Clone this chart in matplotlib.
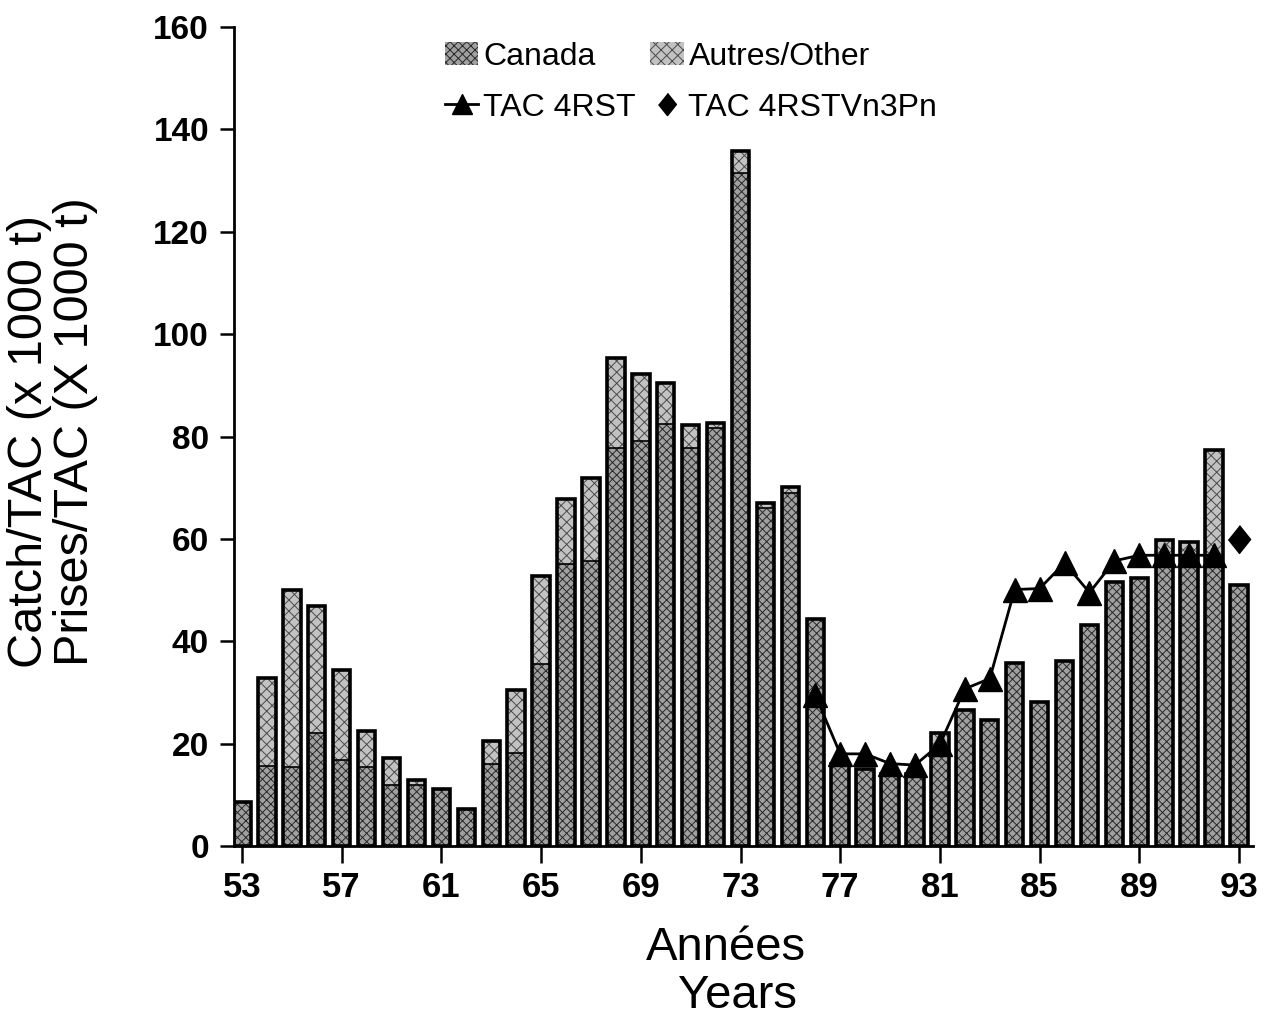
import numpy as np
import matplotlib
matplotlib.use("Agg")
import matplotlib.pyplot as plt
from matplotlib.patches import Patch
from matplotlib.lines import Line2D

plt.rcParams['font.family'] = ['Liberation Sans', 'DejaVu Sans']
plt.rcParams['hatch.linewidth'] = 0.7

# Catch by year (x 1000 t)
years = np.arange(53, 94)
canada = [8.5, 15.7, 15.4, 22.1, 16.8, 15.5, 11.9, 12.0, 11.1, 7.2,
          16.1, 18.2, 35.5, 55.0, 55.6, 77.7, 79.2, 82.5, 77.8, 81.6,
          131.5, 66.0, 69.0, 44.4, 16.0, 15.1, 14.0, 14.0, 18.3, 26.6,
          24.7, 35.7, 28.1, 36.1, 43.1, 51.6, 52.3, 56.8, 56.8, 55.0,
          51.0]
other = [0.0, 17.1, 34.6, 24.7, 17.5, 7.0, 5.3, 0.9, 0.0, 0.0,
         4.5, 12.2, 17.2, 12.8, 16.2, 17.6, 13.1, 7.9, 4.5, 1.0,
         4.2, 1.0, 1.1, 0.0, 0.0, 0.0, 0.0, 0.0, 3.7, 0.0,
         0.0, 0.0, 0.0, 0.0, 0.0, 0.0, 0.0, 2.9, 2.5, 22.3,
         0.0]

# TAC
tac_years = np.arange(76, 93)
tac_4rst = [29.5, 18.0, 18.0, 16.1, 15.8, 19.9, 30.7, 32.7, 50.1, 50.3,
            55.3, 49.5, 55.7, 56.8, 56.8, 56.8, 56.8]
tac2_years = [93]
tac_4rstvn3pn = [59.9]

canada = np.array(canada)
other = np.array(other)
total = canada + other

fig = plt.figure(figsize=(12.63, 10.19), dpi=100)
ax = fig.add_axes([234/1263, 1 - 846/1019, (1253 - 234)/1263, (846 - 27)/1019])

c_can, h_can = '#a0a0a0', '#282828'
c_oth, h_oth = '#c2c2c2', '#4a4a4a'

w = 0.7
ax.bar(years, canada, width=w, color=c_can, edgecolor=h_can,
       hatch='xxxx', linewidth=0, zorder=2)
ax.bar(years, other, width=w, bottom=canada, color=c_oth, edgecolor=h_oth,
       hatch='xxx', linewidth=0, zorder=2)
# split line and outline
ax.bar(years, canada, width=w, fill=False, edgecolor='black', linewidth=1.2, zorder=3)
ax.bar(years, total, width=w, fill=False, edgecolor='black', linewidth=2.6, zorder=3)

ax.plot(tac_years, tac_4rst, color='black', linewidth=2, marker='^',
        markersize=17, zorder=4)
diamond = [(0, 1), (0.8, 0), (0, -1), (-0.8, 0)]
ax.plot(tac2_years, tac_4rstvn3pn, linestyle='none', color='black',
        marker=diamond, markersize=20, zorder=4)

ax.set_xlim(52.68, 93.56)
ax.set_ylim(0, 160)
ax.set_xticks(np.arange(53, 94, 4))
ax.set_xticklabels([str(y) for y in range(53, 94, 4)])
ax.set_yticks(np.arange(0, 161, 20))
for s in ['top', 'right']:
    ax.spines[s].set_visible(False)
ax.spines['left'].set_linewidth(2)
ax.spines['bottom'].set_linewidth(2)
ax.tick_params(axis='y', direction='out', length=10, width=1.8, pad=8, labelsize=24)
ax.tick_params(axis='x', direction='out', length=12, width=1.8, pad=6, labelsize=25)
for lab in ax.get_xticklabels() + ax.get_yticklabels():
    lab.set_fontweight('bold')

# axis titles
fig.text(30/1263, 1 - 442/1019, 'Catch/TAC (x 1000 t)', rotation=90,
         ha='center', va='center', fontsize=35)
fig.text(76/1263, 1 - 432/1019, 'Prises/TAC (X 1000 t)', rotation=90,
         ha='center', va='center', fontsize=35)
fig.text(726/1263, 1 - 948/1019, 'Années', ha='center', va='center', fontsize=34)
fig.text(738/1263, 1 - 996/1019, 'Years', ha='center', va='center', fontsize=34)

handles = [
    Patch(facecolor=c_can, edgecolor=h_can, hatch='xxxx', linewidth=0),
    Line2D([], [], color='black', linewidth=2, marker='^', markersize=15),
    Patch(facecolor=c_oth, edgecolor=h_oth, hatch='xxx', linewidth=0),
    Line2D([], [], linestyle='none', color='black', marker=diamond, markersize=16),
]
labels = ['Canada', 'TAC 4RST', 'Autres/Other', 'TAC 4RSTVn3Pn']
fig.legend(handles, labels, ncol=2, loc='upper left',
           bbox_to_anchor=(432/1263, 1 - 29/1019), frameon=False,
           fontsize=23, handlelength=1.05, handletextpad=0.15,
           columnspacing=0.45, labelspacing=0.65, borderaxespad=0)

fig.savefig('out.png', dpi=100)
